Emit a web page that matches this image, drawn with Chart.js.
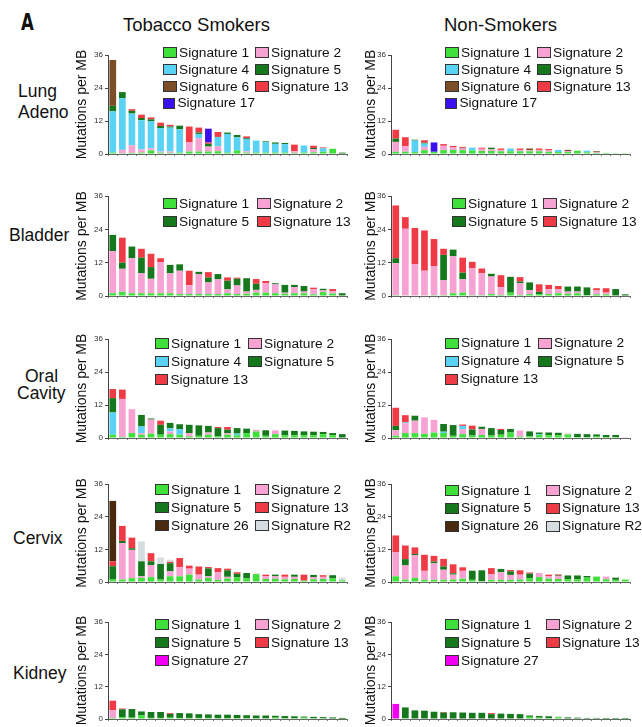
<!DOCTYPE html>
<html>
<head>
<meta charset="utf-8">
<script src="https://cdn.jsdelivr.net/npm/chart.js@4.4.1/dist/chart.umd.min.js"></script>
<style>
  body { margin: 0; background: #fff; width: 642px; height: 727px; position: relative; overflow: hidden;
         font-family: "Liberation Sans", Arial, sans-serif; color: #111; }
  .t { position: absolute; white-space: nowrap; line-height: 1; }
  canvas { position: absolute; }
  .lg { position: absolute; display: grid; font-size: 13.7px; line-height: 1; }
  .lg div { display: flex; align-items: center; white-space: nowrap; }
  .lg i { display: inline-block; width: 12px; height: 9px; border: 1px solid #333; margin-right: 2px; }
</style>
</head>
<body>
<div class="t" style="left:21px;top:11px;font-size:23px;font-weight:bold;font-family:'Liberation Sans Narrow','DejaVu Sans Condensed',sans-serif;transform:scaleX(0.8);transform-origin:left">A</div>
<div class="t" style="left:123px;top:16px;font-size:18.5px">Tobacco Smokers</div>
<div class="t" style="left:444px;top:16px;font-size:18.5px">Non-Smokers</div>
<div class="t" style="left:18px;top:83px;font-size:17.5px">Lung</div>
<div class="t" style="left:18px;top:104px;font-size:17.5px">Adeno</div>
<div class="t" style="left:9px;top:227px;font-size:17.5px">Bladder</div>
<div class="t" style="left:25px;top:368px;font-size:17.5px">Oral</div>
<div class="t" style="left:17px;top:385px;font-size:17.5px">Cavity</div>
<div class="t" style="left:13px;top:530px;font-size:17.5px">Cervix</div>
<div class="t" style="left:13px;top:665px;font-size:17.5px">Kidney</div>

<script>
// patients (one bar each, sorted by total)
const patients = ['1','2','3','4','5','6','7','8','9','10','11','12','13','14','15','16','17','18','19','20','21','22','23','24','25'];
const yTicks = [0, 12, 24, 36];

// Lung adeno - smokers
const lungSmk1  = [0.5,0.3,0.4,0.5,1.3,0.5,0.4,0.5,0.9,0.9,0.9,1.0,0.5,1.3,0.5,0.5,0.5,0.5,0.5,0.4,0.5,0.6,0.8,1.9,0];
const lungSmk2  = [0,1.2,2.8,1.2,0.8,0.4,0.5,0,3.3,4.8,1.8,1.8,0,0,0.5,0,0,0,0,0.6,0,1.2,0,0,0];
const lungSmk4  = [15,18.8,11.5,10.6,9.9,8.5,8.7,8.5,0,1.6,0,3.4,6.8,4.8,4.5,4.4,3.8,3.2,3.1,0,2.6,0,1.3,0,0];
const lungSmk5  = [2,2.2,1,0.8,0.6,0.8,0.4,1.3,0,0.5,1.0,0,0.5,0.8,0.3,0,0.3,0.5,0.4,0,0,0.4,0,0,0.5];
const lungSmk6  = [16.7,0,0,0,0,0,0,0,0,0,0,0,0,0,0,0,0,0,0,0,0,0,0,0,0];
const lungSmk13 = [0,0,0.6,1.2,0.7,1.2,0.6,0,5.8,1.8,0.5,1.8,0,0,0.6,0,0,0,0,2.4,0,0.8,0.3,0,0];
const lungSmk17 = [0,0,0,0,0,0,0,0,0,0,5.0,0,0,0,0,0,0,0,0,0,0,0,0,0,0];
// Lung adeno - non-smokers
const lungNon1  = [0.8,0.8,0.7,1.4,0.8,1.4,1.5,1.4,1.3,1.1,1.1,1.0,1.0,1.0,1.0,1.0,0.8,0.7,0.7,1.2,0.6,0.4,0.4,0.3,0.3];
const lungNon2  = [3.6,2.1,0,1.2,0,1.6,0.9,0.6,0,0.8,0.6,0.5,0,0.5,0.4,0.5,0.5,0,0.3,0,0,0.3,0,0,0];
const lungNon4  = [0,0,4.2,1.2,0,0,0,0,1.0,0,0,0,1.0,0,0,0,0,0.8,0,0,0.6,0,0,0,0];
const lungNon5  = [1.2,0,0.3,0.3,0,0,0,0,0,0,0.6,0,0,0,0,0,0,0,0,0,0,0,0,0,0];
const lungNon6  = [0,0,0,0,0,0,0,0.3,0,0,0,0,0,0,0.6,0,0,0,0.5,0,0,0.3,0,0,0];
const lungNon13 = [3.2,3.2,0,0.9,0,0.6,0.5,0.3,0,0.4,0,0.5,0,0.5,0,0.5,0.5,0,0,0,0,0,0,0,0];
const lungNon17 = [0,0,0,0,3.4,0,0,0,0,0,0,0,0,0,0,0,0,0,0,0,0,0,0,0,0];

// Bladder
const bladSmk1  = [1.0,1.5,1.0,1.0,1.0,1.0,1.0,0.7,0.7,0.7,0.7,0.7,1.0,0.7,0.8,1.2,1.2,1.0,0.8,1.0,1.0,0.6,1.4,0.9,0.2];
const bladSmk2  = [15.2,8.3,12.6,7.2,5.2,11.2,7.2,8.4,3.2,7.2,4.2,5.3,1.4,3.1,0.8,1.0,3.4,3.2,0.4,2.2,0.6,1.8,0.6,0.8,0];
const bladSmk5  = [5.8,2.2,4.2,5.6,4.2,0,3.0,2.3,0,0.8,1.8,1.9,3.1,2.4,4.8,2.2,0,0.4,2.8,0.8,2.0,0,0.6,0,0.8];
const bladSmk13 = [0,9.0,0,3.2,4.8,1.4,0,0,5.2,0,1.9,0,1.2,0.4,0,1.7,0.8,0,0,0,0,0.6,0,0.8,0];
const bladNon1  = [0.3,0.2,0.2,0.2,0.3,0.3,1.0,1.2,0.3,0.3,0.7,0.4,1.2,0.4,0.7,0.7,0.7,1.0,0.8,1.0,0.3,0.6,0.6,0.2,0];
const bladNon2  = [11.5,24,11.3,8.9,10.5,5.4,13.3,4.8,9.7,7.9,6.3,2.8,0,4.2,1.4,0,1.7,1.4,0.8,0.6,0,1.4,0.6,0,0];
const bladNon5  = [1.8,0,0,0,0,9.1,2.4,2.4,0,0,1.0,0,5.7,0.6,2.8,0.8,0,0,1.8,1.8,2.8,0,0,2.3,0.6];
const bladNon13 = [19,4.2,13.0,14.5,9.7,2.2,0,5.4,2.3,1.7,0,4.3,0,1.6,0,2.7,1.6,1.2,0,0,0,0.8,1.6,0,0];

// Oral cavity
const oralSmk1  = [1.2,0.4,1.8,1.2,1.6,1.2,1.4,1.2,0.6,0.8,1.2,0.6,1.2,1.0,1.8,2.4,0.8,1.4,1.0,1.0,1.0,1.0,1.4,1.0,0];
const oralSmk2  = [0,13.8,8.7,0.6,5.1,0,1.0,0,1.2,0,0.8,0,0.6,0,0,0.6,0,1.4,0,0,0,0,0,0,0];
const oralSmk4  = [8.1,0,0,2.4,0,0,1.1,2.0,0,0,0,0,0,0.6,0,0,0,0,0,0,0,0,0,0,0];
const oralSmk5  = [5.2,0,0,4.2,0.4,3.6,2.0,1.8,3.0,3.8,2.4,3.0,1.2,2.0,1.6,0,2.0,0,1.7,1.6,1.4,1.3,0.8,0.8,1.4];
const oralSmk13 = [3.3,3.4,0,0,0,1.5,0,0,0,0,0,0.4,1.0,0,0,0,0,0,0,0,0,0,0,0,0];
const oralNon1  = [0.8,1.8,1.8,1.5,2.0,1.8,0.8,1.4,0.9,1.1,0.9,1.2,2.0,0.5,0.6,1.1,1.0,1.0,1.3,0.3,0.3,0.5,0.3,0.3,0];
const oralNon2  = [2.0,3.6,4.5,6.0,4.6,0,0,1.8,0,2.2,0,0,0,2.2,0,0,0,0,0.3,0,0,0,0,0,0.3];
const oralNon4  = [0,0.3,0,0,0,0.5,0,1.2,0,0,0,0,0,0,0,0.3,0,0,0,0,0,0,0,0,0];
const oralNon5  = [1.6,0,1.8,0,0,2.8,3.9,0,2.2,0.8,2.7,1.7,1.3,0,1.8,0.6,1.0,0.9,0,1.2,1.1,0.8,0.8,0.8,0];
const oralNon13 = [6.6,2.6,0,0,0,0,0,0.5,1.4,0,0,0.4,0,0,0,0,0,0,0,0,0,0,0,0,0];

// Cervix
const cervSmk1  = [0.9,0.9,1.4,1.5,1.8,0.9,2.1,2.1,2.7,0.9,1.5,0.8,1.3,1.8,1.3,2.8,1.1,1.2,1.0,1.1,0.5,1.0,1.1,1.3,0.6];
const cervSmk2  = [0,13.4,10.4,0.6,4.4,0,1.8,3.3,2.2,1.8,0.6,2.8,0.6,0,0,0,1.0,0.9,0.9,0.8,0,0.8,0.8,0,0];
const cervSmk5  = [4.9,0.8,0.6,5.5,1.4,5.7,3.0,0,0,0,2.9,0,2.4,1.2,2.0,0.2,0,0.6,0,0.8,0,0.8,0,1.2,0];
const cervSmk13 = [1.8,5.5,3.9,0,3.0,0,0.5,3.4,1.1,3.0,0.5,1.5,0.6,0.6,0,0,0.6,0,0.8,0,2.2,0,0.6,0,0];
const cervSmk26 = [22.2,0,0,0,0,0,0,0,0,0,0,0,0,0,0,0,0,0,0,0,0,0,0,0,0];
const cervSmkR2 = [0,0,0,7.3,0,2.4,0.8,0,0,0,0,0,0,0,0,0,0,0,0,0,0,0,0,0,1.0];
const cervNon1  = [2.1,0.9,1.5,0.8,0.8,0.8,0.9,1.2,0.8,0.3,0.8,0.8,0.8,0.9,1.4,1.8,1.2,1.1,1.0,1.0,1.6,2.0,1.0,0.8,0.9];
const cervNon2  = [8.9,5.2,8.3,3.3,6.1,3.7,1.8,2.9,0,0,2.1,2.8,1.8,1.8,0,1.5,0.9,1.0,0,0,0,0,1.0,0,0];
const cervNon5  = [0,2.3,0.5,0,0.6,1.2,0.5,0,3.3,4.0,0,1.2,1.3,0,1.7,0,0,0.3,1.4,1.4,0.6,0,0,0.8,0];
const cervNon13 = [6.1,5.0,2.4,5.9,2.1,2.8,3.3,1.3,0,0,2.2,0,0.5,1.6,0.4,0,0.6,0.4,0,0,0,0,0,0,0];
const cervNon26 = [0,0,0,0,0,0,0,0,0,0,0,0,0,0,0,0,0,0,0,0,0,0,0,0,0];
const cervNonR2 = [0,0,0,0,0,0,0,0,0.3,0,0,0,0,0,0,0,0,0,0,0,0,0,0,0,0];

// Kidney
const kidSmk1  = [0.4,0.7,0.5,1.4,0.4,0.4,0.5,0.4,0.4,0.4,0.4,0.3,0.3,0.3,0.3,0.3,0.3,0.5,0.3,0.3,0.5,0.3,0.3,0.2,0.1];
const kidSmk2  = [2.8,0,0,0,0,0,0,0,0,0,0,0,0,0,0,0,0,0,0,0,0,0,0,0,0];
const kidSmk5  = [0,2.9,3.2,1.4,2.2,2.2,1.4,1.8,1.7,1.4,1.3,1.3,1.3,1.2,1.1,1.0,1.0,0.7,0.8,0.7,0.4,0.5,0.4,0.4,0.3];
const kidSmk13 = [3.6,0.3,0,0,0,0,0.3,0,0,0,0,0,0,0,0,0,0,0,0,0,0,0,0,0,0];
const kidSmk27 = [0,0,0,0,0,0,0,0,0,0,0,0,0,0,0,0,0,0,0,0,0,0,0,0,0];
const kidNon1  = [0.2,0.3,0.2,0.2,0.2,0.2,0.2,0.2,0.2,0.2,0.2,0.2,0.2,0.2,0.8,0.5,0.3,0.6,0.2,0.2,0.2,0.2,0.1,0.1,0.1];
const kidNon2  = [0,0,0,0,0,0,0,0,0,0,0,0,0,0,0,0,0,0,0,0,0,0,0,0,0];
const kidNon5  = [0,4.0,3.0,2.9,2.5,2.2,2.3,2.2,2.1,2.1,1.6,1.8,1.7,1.6,0.5,0.6,0.7,0.2,0.4,0.3,0.2,0.2,0.2,0.2,0.2];
const kidNon13 = [0,0,0,0,0,0.2,0,0,0,0,0.4,0,0,0,0,0,0,0,0,0,0,0,0,0,0];
const kidNon27 = [5.4,0,0,0,0,0,0,0,0,0,0,0,0,0,0,0,0,0,0,0,0,0,0,0,0];

// signature names + colours
const sigLabel = { s1:'Signature 1', s2:'Signature 2', s4:'Signature 4', s5:'Signature 5', s6:'Signature 6',
  s13:'Signature 13', s17:'Signature 17', s26:'Signature 26', sR2:'Signature R2', s27:'Signature 27' };
const sigColor = { s1:'#3fe03a', s2:'#f6a3d3', s4:'#5ad2f3', s5:'#16781c', s6:'#7b4e28',
  s13:'#ef3b45', s17:'#3b10ee', s26:'#4a2a0f', sR2:'#d5dde0', s27:'#f200f2' };

// layout
const rowTop = [55, 196, 339, 484, 622];
const rowBottom = [154, 296, 438, 582, 719];
const colAxisX = [108, 391];
const colBoxW = [34, 28];
const plotW = 239;

const panels = [
  { row:0, col:0, lx:163, ly:53, lw:92, lh:16.7, series:[['s1',lungSmk1],['s2',lungSmk2],['s4',lungSmk4],['s5',lungSmk5],['s6',lungSmk6],['s13',lungSmk13],['s17',lungSmk17]] },
  { row:0, col:1, lx:445, ly:53, lw:92, lh:16.7, series:[['s1',lungNon1],['s2',lungNon2],['s4',lungNon4],['s5',lungNon5],['s6',lungNon6],['s13',lungNon13],['s17',lungNon17]] },
  { row:1, col:0, lx:163, ly:203.5, lw:94, lh:18.3, series:[['s1',bladSmk1],['s2',bladSmk2],['s5',bladSmk5],['s13',bladSmk13]] },
  { row:1, col:1, lx:452, ly:203.5, lw:91, lh:18.3, series:[['s1',bladNon1],['s2',bladNon2],['s5',bladNon5],['s13',bladNon13]] },
  { row:2, col:0, lx:155, ly:343.5, lw:93, lh:18, series:[['s1',oralSmk1],['s2',oralSmk2],['s4',oralSmk4],['s5',oralSmk5],['s13',oralSmk13]] },
  { row:2, col:1, lx:445, ly:343, lw:93, lh:18, series:[['s1',oralNon1],['s2',oralNon2],['s4',oralNon4],['s5',oralNon5],['s13',oralNon13]] },
  { row:3, col:0, lx:155, ly:490, lw:100, lh:17.8, series:[['s1',cervSmk1],['s2',cervSmk2],['s5',cervSmk5],['s13',cervSmk13],['s26',cervSmk26],['sR2',cervSmkR2]] },
  { row:3, col:1, lx:445, ly:490.5, lw:101, lh:17.8, series:[['s1',cervNon1],['s2',cervNon2],['s5',cervNon5],['s13',cervNon13],['s26',cervNon26],['sR2',cervNonR2]] },
  { row:4, col:0, lx:155, ly:624.5, lw:100, lh:18, series:[['s1',kidSmk1],['s2',kidSmk2],['s5',kidSmk5],['s13',kidSmk13],['s27',kidSmk27]] },
  { row:4, col:1, lx:445, ly:624.5, lw:101, lh:18, series:[['s1',kidNon1],['s2',kidNon2],['s5',kidNon5],['s13',kidNon13],['s27',kidNon27]] }
];

Chart.defaults.font.family = '"Liberation Sans", Arial, sans-serif';

const padTop = 16, xAxisH = 8, padRight = 2;

panels.forEach(p => {
  const boxW = colBoxW[p.col];
  const plotH = rowBottom[p.row] - rowTop[p.row];
  const cv = document.createElement('canvas');
  cv.width = boxW + plotW + padRight;
  cv.height = padTop + plotH + xAxisH;
  cv.style.left = (colAxisX[p.col] - boxW) + 'px';
  cv.style.top = (rowTop[p.row] - padTop) + 'px';
  document.body.appendChild(cv);

  new Chart(cv, {
    type: 'bar',
    data: {
      labels: patients,
      datasets: p.series.map(([k, vals]) => ({
        label: sigLabel[k],
        data: vals,
        backgroundColor: sigColor[k],
        borderWidth: 0,
        categoryPercentage: 1,
        barPercentage: 0.7
      }))
    },
    options: {
      responsive: false,
      animation: false,
      layout: { padding: { top: padTop, right: padRight, left: 0, bottom: 0 } },
      plugins: { legend: { display: false }, tooltip: { enabled: false } },
      scales: {
        x: {
          stacked: true,
          ticks: { display: false },
          grid: { drawOnChartArea: false, drawTicks: true, tickLength: 2, color: '#777' },
          border: { display: true, color: '#666' },
          afterFit: s => { s.height = xAxisH; }
        },
        y: {
          stacked: true,
          min: 0, max: 36,
          afterBuildTicks: s => { s.ticks = yTicks.map(v => ({ value: v })); },
          ticks: { font: { size: 8 }, color: '#333', padding: 2 },
          grid: { drawOnChartArea: false, drawTicks: true, tickLength: 3, color: '#444' },
          border: { display: true, color: '#444' },
          title: { display: true, text: 'Mutations per MB', font: { size: 14 }, color: '#111', padding: 0 },
          afterFit: s => { s.width = boxW; }
        }
      }
    }
  });

  // legend, two columns like the original
  const lg = document.createElement('div');
  lg.className = 'lg';
  lg.style.left = p.lx + 'px';
  lg.style.top = (p.ly - p.lh / 2) + 'px';
  lg.style.gridTemplateColumns = p.lw + 'px auto';
  lg.style.gridAutoRows = p.lh + 'px';
  p.series.forEach(([k]) => {
    const it = document.createElement('div');
    it.innerHTML = '<i style="background:' + sigColor[k] + '"></i>' + sigLabel[k];
    lg.appendChild(it);
  });
  document.body.appendChild(lg);
});
</script>
</body>
</html>
